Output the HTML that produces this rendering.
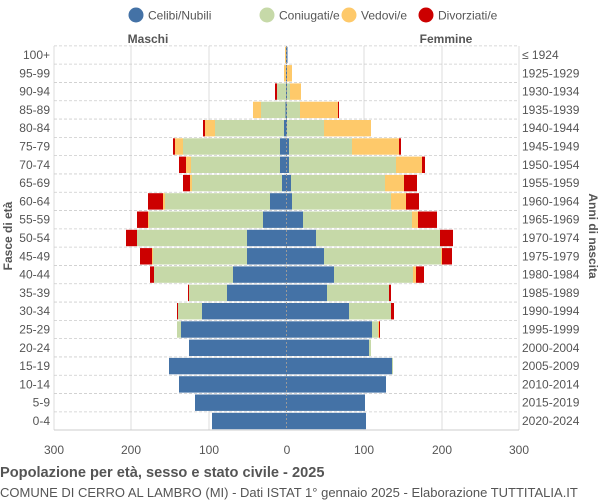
<!DOCTYPE html>
<html><head><meta charset="utf-8"><style>
body{margin:0;background:#fff;}
svg{display:block;font-family:"Liberation Sans",sans-serif;}
</style></head><body>
<svg id="s" width="600" height="500" xmlns="http://www.w3.org/2000/svg"></svg>
<script>
const s=document.getElementById('s');
let h='';
const B='#4472a6',G='#c6d9a8',Y='#fec96a',R='#cc0000';
const ages=['100+','95-99','90-94','85-89','80-84','75-79','70-74','65-69','60-64','55-59','50-54','45-49','40-44','35-39','30-34','25-29','20-24','15-19','10-14','5-9','0-4'];
const yrs=['≤ 1924','1925-1929','1930-1934','1935-1939','1940-1944','1945-1949','1950-1954','1955-1959','1960-1964','1965-1969','1970-1974','1975-1979','1980-1984','1985-1989','1990-1994','1995-1999','2000-2004','2005-2009','2010-2014','2015-2019','2020-2024'];
const L=[[286,286,285,285],[286,286,284,284],[286,277,277,275],[285.5,261,253,253],[284,215,205,203],[280,183,175,173],[280,191,186,179],[282,192,190,183],[270,165,163,148],[263,149,148,137],[247,137,137,126],[247,153,152,140],[233,154,154,150],[227,189,189,188],[202,178,178,177],[181,177,177,177],[189,189,189,189],[169,169,169,169],[179,179,179,179],[195,195,195,195],[212,212,212,212]];
const Rr=[[287.5,287.5,287.5,287.5],[287,287,292,292],[287,290,301,301],[287,300,338,339],[287,324,371,371],[289,352,399,401],[289,396,422,425],[291,385,404,417],[292,391,406,419],[303,412,418,437],[316,440,440,453],[324,441,442,452],[334,413,416,424],[327,389,389,391],[349,391,391,394],[372,378,379,380],[369,371,371,371],[392,393,393,393],[386,386,386,386],[365,365,365,365],[366,366,366,366]];
const C=286.5,y0=55,dy=18.3,bh=16.4;
[54,131,209,364,442,519].forEach(x=>h+=`<line x1="${x}" y1="46" x2="${x}" y2="430" stroke="#ddd" stroke-width="1"/>`);
for(let i=0;i<=21;i++){const y=y0-dy/2+i*dy;h+=`<line x1="54" y1="${y}" x2="519" y2="${y}" stroke="#ccc" stroke-dasharray="3,2" stroke-width="0.8"/>`;}
for(let i=0;i<21;i++){
 const y=y0+i*dy-bh/2;const l=L[i],r=Rr[i];
 const seg=(a,b,c)=>{if(b>a)h+=`<rect x="${a}" y="${y}" width="${b-a}" height="${bh}" fill="${c}"/>`;};
 seg(l[3],l[2],R);seg(l[2],l[1],Y);seg(l[1],l[0],G);seg(l[0],C,B);
 seg(C,r[0],B);seg(r[0],r[1],G);seg(r[1],r[2],Y);seg(r[2],r[3],R);
 h+=`<text x="50" y="${y0+i*dy+4}" font-size="12" fill="#555" text-anchor="end">${ages[i]}</text>`;
 h+=`<text x="522" y="${y0+i*dy+4}" font-size="12" fill="#555">${yrs[i]}</text>`;
}
h+=`<line x1="${C}" y1="46" x2="${C}" y2="430" stroke="#999" stroke-dasharray="2,2" stroke-width="1"/>`;
h+=`<line x1="54" y1="430" x2="519" y2="430" stroke="#ccc"/>`;
[[54,'300'],[131,'200'],[209,'100'],[287,'0'],[364,'100'],[442,'200'],[519,'300']].forEach(([x,t])=>h+=`<text x="${x}" y="454" font-size="12" fill="#555" text-anchor="middle">${t}</text>`);
h+=`<text x="148" y="43" font-size="12" font-weight="bold" fill="#555" text-anchor="middle">Maschi</text>`;
h+=`<text x="446" y="43" font-size="12" font-weight="bold" fill="#555" text-anchor="middle">Femmine</text>`;
h+=`<text transform="translate(12,236) rotate(-90)" font-size="12" font-weight="bold" fill="#555" text-anchor="middle">Fasce di età</text>`;
h+=`<text transform="translate(589,236) rotate(90)" font-size="12" font-weight="bold" fill="#555" text-anchor="middle">Anni di nascita</text>`;
[[136,B,'Celibi/Nubili'],[267,G,'Coniugati/e'],[349,Y,'Vedovi/e'],[426,R,'Divorziati/e']].forEach(([x,c,t])=>{h+=`<circle cx="${x}" cy="15" r="7.5" fill="${c}"/><text x="${x+12}" y="19.5" font-size="12" fill="#555">${t}</text>`;});
h+=`<text x="0" y="477" font-size="14.6" font-weight="bold" fill="#555">Popolazione per età, sesso e stato civile - 2025</text>`;
h+=`<text x="0" y="497" font-size="13" fill="#555">COMUNE DI CERRO AL LAMBRO (MI) - Dati ISTAT 1° gennaio 2025 - Elaborazione TUTTITALIA.IT</text>`;
s.innerHTML=h;
</script>
</body></html>
